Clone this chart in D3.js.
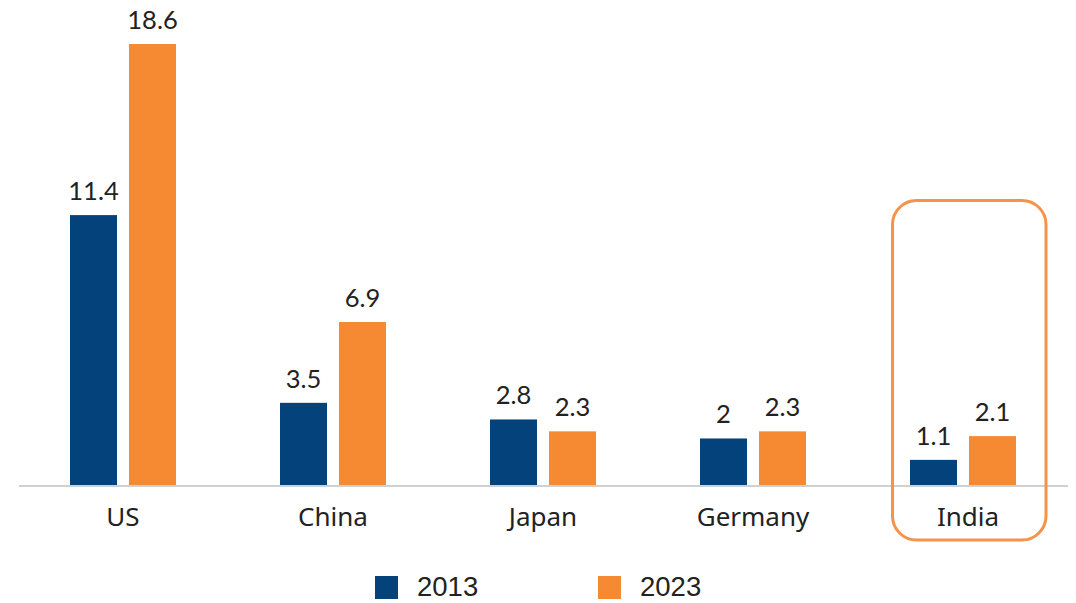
<!DOCTYPE html>
<html>
<head>
<meta charset="utf-8">
<script src="https://cdn.jsdelivr.net/npm/d3@7"></script>
<style>
  html, body { margin: 0; padding: 0; background: #ffffff; }
  svg { display: block; }
</style>
</head>
<body>
<svg id="chart" width="1076" height="603"></svg>
<script>
const categories = ["US", "China", "Japan", "Germany", "India"];
const seriesNames = ["2013", "2023"];
const values2013 = [11.4, 3.5, 2.8, 2, 1.1];
const values2023 = [18.6, 6.9, 2.3, 2.3, 2.1];
const valueLabels2013 = ["11.4", "3.5", "2.8", "2", "1.1"];
const valueLabels2023 = ["18.6", "6.9", "2.3", "2.3", "2.1"];
const highlighted = "India";

const colors = { "2013": "#03427a", "2023": "#f58a33" };

const svg = d3.select("#chart");

const x0 = d3.scaleBand().domain(categories).range([18, 1068]).paddingInner(0).paddingOuter(0);
const x1 = d3.scaleBand().domain(seriesNames).range([52, 158]).paddingInner(12 / 59).paddingOuter(0);
const y = d3.scaleLinear().domain([0, 18.6]).range([486, 44]);

const rows = categories.map((c, i) => ({
  cat: c,
  vals: [
    { s: "2013", v: values2013[i], label: valueLabels2013[i] },
    { s: "2023", v: values2023[i], label: valueLabels2023[i] }
  ]
}));

const groups = svg.selectAll("g.cat").data(rows).join("g")
  .attr("class", "cat")
  .attr("transform", d => `translate(${x0(d.cat)},0)`);

groups.selectAll("rect").data(d => d.vals).join("rect")
  .attr("x", d => x1(d.s))
  .attr("y", d => y(d.v))
  .attr("width", x1.bandwidth())
  .attr("height", d => y(0) - y(d.v))
  .attr("fill", d => colors[d.s]);

groups.selectAll("text.val").data(d => d.vals).join("text")
  .attr("class", "val")
  .attr("x", d => x1(d.s) + x1.bandwidth() / 2)
  .attr("y", d => y(d.v) - 15)
  .attr("text-anchor", "middle")
  .attr("font-family", "Lato, 'Noto Sans', sans-serif")
  .attr("font-size", 25.5)
  .attr("fill", "#222222")
  .text(d => d.label);

// baseline axis
const xAxis = d3.axisBottom(x0).tickSize(0).tickPadding(0);
const axisG = svg.append("g").attr("transform", `translate(0,${y(0)})`).call(xAxis);
axisG.select(".domain").attr("stroke", "#d0d0d0").attr("stroke-width", 2)
  .attr("d", `M${x0.range()[0] + 1},0H${x0.range()[1]}`);
axisG.selectAll(".tick text")
  .attr("y", 40)
  .attr("dy", 0)
  .attr("dx", d => d === highlighted ? 5 : 0)
  .attr("font-family", "'Noto Sans', 'Open Sans', sans-serif")
  .attr("font-size", 26)
  .attr("fill", "#222222");

// highlight box
svg.append("rect")
  .attr("x", x0(highlighted) + 34.5)
  .attr("y", 200.5)
  .attr("width", 153.5)
  .attr("height", 339.5)
  .attr("rx", 24)
  .attr("ry", 24)
  .attr("fill", "none")
  .attr("stroke", "#f5934a")
  .attr("stroke-width", 3);

// legend
const legendX = [375, 598];
const legend = svg.selectAll("g.legend").data(seriesNames).join("g")
  .attr("class", "legend")
  .attr("transform", (d, i) => `translate(${legendX[i]},576)`);
legend.append("rect")
  .attr("width", 23).attr("height", 23)
  .attr("fill", d => colors[d]);
legend.append("text")
  .attr("x", 42).attr("y", 20)
  .attr("font-family", "'Liberation Sans', Arial, sans-serif")
  .attr("font-size", 27.5)
  .attr("fill", "#222222")
  .text(d => d);
</script>
</body>
</html>
